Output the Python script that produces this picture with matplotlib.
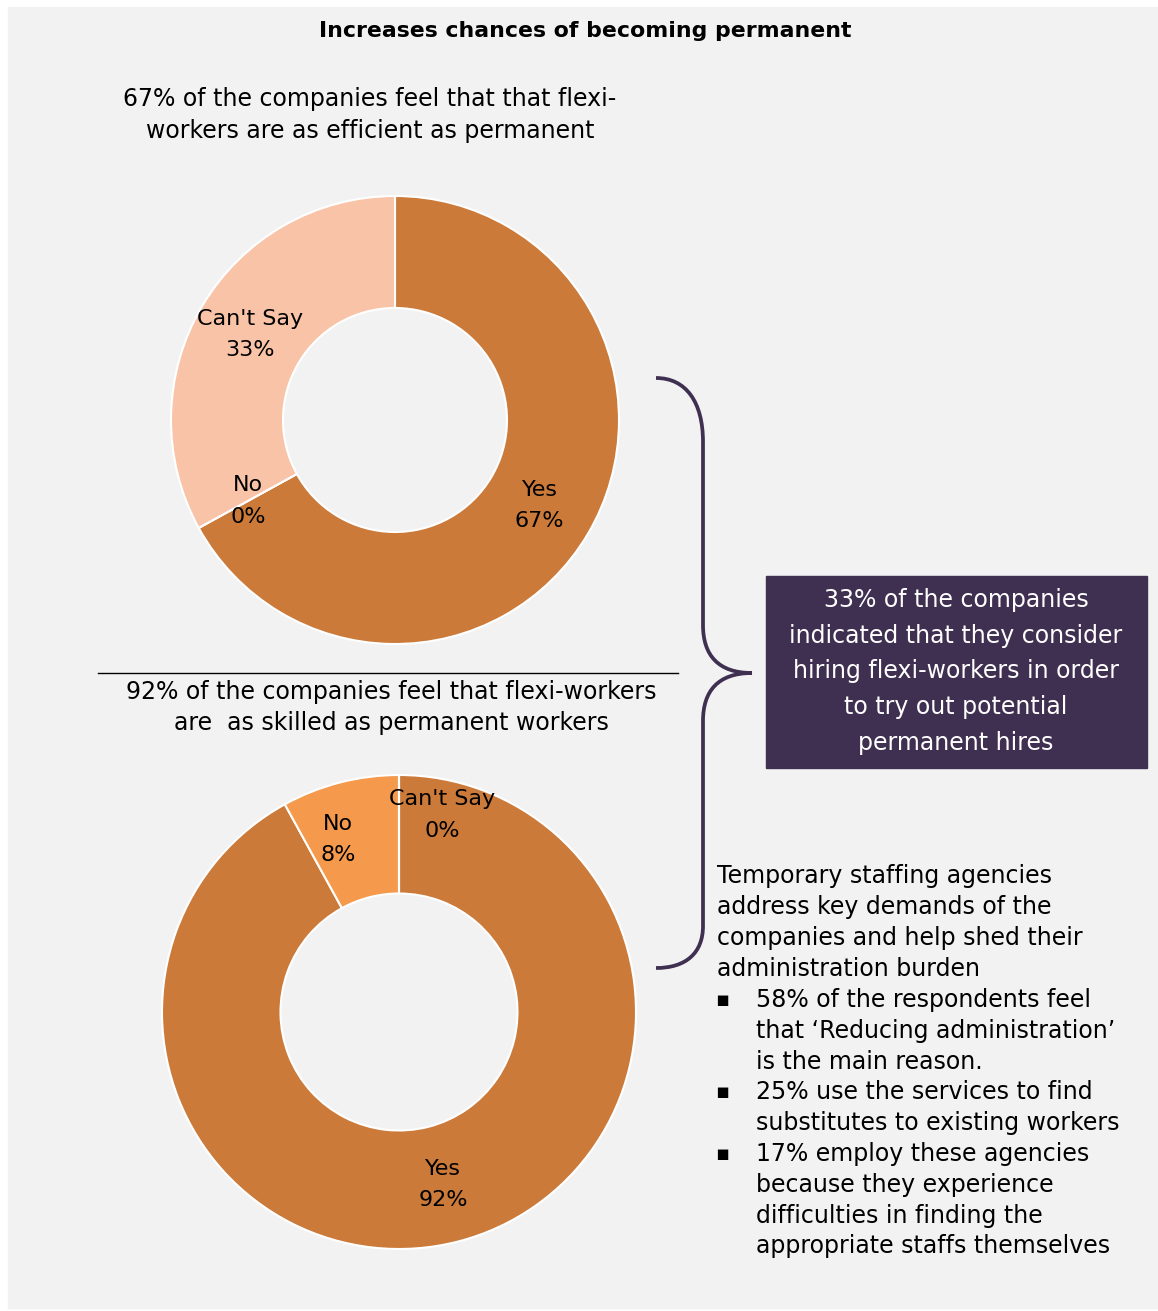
import matplotlib.pyplot as plt
from matplotlib.patches import Rectangle, PathPatch
from matplotlib.path import Path

plt.rcParams['font.family'] = ['DejaVu Sans']

W, H = 1158, 1311

# survey answers
answers = ["Yes", "No", "Can't Say"]
efficient_pct = [67, 0, 33]
skilled_pct = [92, 8, 0]
efficient_colors = ["#CB7A3A", "#CB7A3A", "#F9C3A8"]
skilled_colors = ["#CB7A3A", "#F59A4C", "#CB7A3A"]

title = "Increases chances of becoming permanent"
efficient_head = ["67% of the companies feel that that flexi-",
                  "workers are as efficient as permanent"]
skilled_head = ["92% of the companies feel that flexi-workers",
                "are  as skilled as permanent workers"]
box_lines = ["33% of the companies",
             "indicated that they consider",
             "hiring flexi-workers in order",
             "to try out potential",
             "permanent hires"]
agency_lines = ["Temporary staffing agencies",
                "address key demands of the",
                "companies and help shed their",
                "administration burden"]
bullets = [["58% of the respondents feel",
            "that \u2018Reducing administration\u2019",
            "is the main reason."],
           ["25% use the services to find",
            "substitutes to existing workers"],
           ["17% employ these agencies",
            "because they experience",
            "difficulties in finding the",
            "appropriate staffs themselves"]]

purple = "#3F2F50"
FS = 17


def Y(y):
    # positions below are measured from the top edge
    return H - y


fig = plt.figure(figsize=(W / 100, H / 100), dpi=100)
ax = fig.add_axes([0, 0, 1, 1])

ax.add_patch(Rectangle((8, Y(1308)), W - 8, 1301, color="#F2F2F2", zorder=0))

ax.text(585, Y(31), title, ha="center", va="center", fontsize=15.8,
        fontweight="bold")


def donut(values, colors, cx, cy, r):
    labels = [f"{a}\n{v}%" for a, v in zip(answers, values)]
    wedges, texts = ax.pie(values, colors=colors, center=(cx, Y(cy)), radius=r,
                           startangle=90, counterclock=False, labels=labels,
                           labeldistance=0.75, frame=True,
                           wedgeprops=dict(width=r * 0.5, edgecolor="white",
                                           linewidth=1.5),
                           textprops=dict(fontsize=16, linespacing=1.7))
    for t in texts:
        t.set_ha("center")
        t.set_va("center")
    return texts


donut(efficient_pct, efficient_colors, 395, 420, 224)
texts = donut(skilled_pct, skilled_colors, 399, 1012, 237)
texts[1].set_x(338)
texts[2].set_position((442, Y(815)))

for i, line in enumerate(efficient_head):
    ax.text(370, Y(99 + i * 32), line, ha="center", va="center", fontsize=FS)
for i, line in enumerate(skilled_head):
    ax.text(391, Y(692 + i * 31), line, ha="center", va="center", fontsize=FS)
ax.plot([98, 678], [Y(673), Y(673)], color="black", lw=1)

# curly brace linking both charts to the box
verts = [(656, 378), (686, 378), (703, 402), (703, 442),
         (703, 625),
         (703, 655), (718, 673), (752, 673),
         (718, 673), (703, 691), (703, 721),
         (703, 926),
         (703, 953), (686, 968), (656, 968)]
codes = [Path.MOVETO, Path.CURVE4, Path.CURVE4, Path.CURVE4,
         Path.LINETO,
         Path.CURVE4, Path.CURVE4, Path.CURVE4,
         Path.CURVE4, Path.CURVE4, Path.CURVE4,
         Path.LINETO,
         Path.CURVE4, Path.CURVE4, Path.CURVE4]
brace = Path([(x, Y(y)) for x, y in verts], codes)
ax.add_patch(PathPatch(brace, facecolor="none", edgecolor=purple, lw=2.7))

ax.add_patch(Rectangle((766, Y(768)), 381, 192, color=purple))
for i, line in enumerate(box_lines):
    ax.text(956, Y(600 + i * 35.7), line, ha="center", va="center",
            fontsize=FS, color="white")

for i, line in enumerate(agency_lines):
    ax.text(717, Y(876 + i * 31), line, ha="left", va="center", fontsize=FS)

row = 0
for item in bullets:
    ax.text(722, Y(1000 + row * 30.8), "\u25aa", ha="center", va="center",
            fontsize=15)
    for line in item:
        ax.text(756, Y(1000 + row * 30.8), line, ha="left", va="center",
                fontsize=FS)
        row += 1

ax.set_xlim(0, W)
ax.set_ylim(0, H)
ax.set_aspect("auto")
ax.axis("off")

fig.savefig("out.png", dpi=100, facecolor="white")
